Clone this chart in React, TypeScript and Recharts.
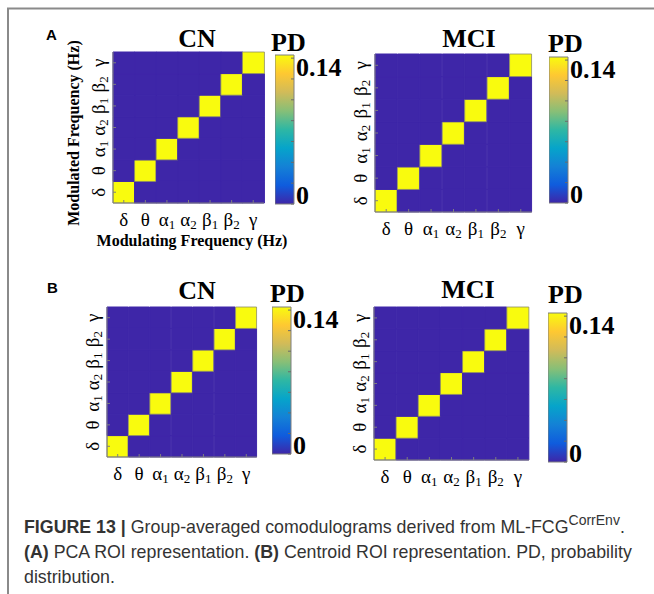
import React from 'react';
import { BarChart, Bar, Cell, XAxis, YAxis } from 'recharts';

// frequency bands, used for both axes (modulating = x, modulated = y)
const bands = ['δ', 'θ', 'α1', 'α2', 'β1', 'β2', 'γ'];
const bandCentres = [0.5, 1.5, 2.5, 3.5, 4.5, 5.5, 6.5];

// probability distribution, rows = modulated band (δ..γ), cols = modulating band (δ..γ)
const pcaCN = [
  [0.143, 0, 0, 0, 0, 0, 0],
  [0, 0.143, 0, 0, 0, 0, 0],
  [0, 0, 0.143, 0, 0, 0, 0],
  [0, 0, 0, 0.143, 0, 0, 0],
  [0, 0, 0, 0, 0.143, 0, 0],
  [0, 0, 0, 0, 0, 0.143, 0],
  [0, 0, 0, 0, 0, 0, 0.143],
];
const pcaMCI = [
  [0.143, 0, 0, 0, 0, 0, 0],
  [0, 0.143, 0, 0, 0, 0, 0],
  [0, 0, 0.143, 0, 0, 0, 0],
  [0, 0, 0, 0.143, 0, 0, 0],
  [0, 0, 0, 0, 0.143, 0, 0],
  [0, 0, 0, 0, 0, 0.143, 0],
  [0, 0, 0, 0, 0, 0, 0.143],
];
const centroidCN = [
  [0.143, 0, 0, 0, 0, 0, 0],
  [0, 0.143, 0, 0, 0, 0, 0],
  [0, 0, 0.143, 0, 0, 0, 0],
  [0, 0, 0, 0.143, 0, 0, 0],
  [0, 0, 0, 0, 0.143, 0, 0],
  [0, 0, 0, 0, 0, 0.143, 0],
  [0, 0, 0, 0, 0, 0, 0.143],
];
const centroidMCI = [
  [0.143, 0, 0, 0, 0, 0, 0],
  [0, 0.143, 0, 0, 0, 0, 0],
  [0, 0, 0.143, 0, 0, 0, 0],
  [0, 0, 0, 0.143, 0, 0, 0],
  [0, 0, 0, 0, 0.143, 0, 0],
  [0, 0, 0, 0, 0, 0.143, 0],
  [0, 0, 0, 0, 0, 0, 0.143],
];

// colour scale
const pdMax = 0.143;
const pdTicks = [0, 0.02, 0.04, 0.06, 0.08, 0.1, 0.12, 0.14];
const pdLabelled = [0, 0.14];
const parula = ['#3e26a8', '#0f5cdd', '#1481d6', '#06a4ca', '#2eb7a4', '#87bf77', '#d1bb59', '#fec832', '#f9fb0e'];

const SERIF = '"Liberation Serif", "Times New Roman", serif';
const SANS = '"Liberation Sans", Arial, sans-serif';
const FRAME = '#7f7f7f';
const AXIS_W = 30;
const AXIS_H = 30;
const CB_PAD = 12;

function hexToRgb(h: string) {
  return [1, 3, 5].map(k => parseInt(h.slice(k, k + 2), 16));
}

function pdColour(v: number) {
  const t = Math.max(0, Math.min(1, v / pdMax)) * (parula.length - 1);
  const k = Math.min(Math.floor(t), parula.length - 2);
  const f = t - k;
  const a = hexToRgb(parula[k]);
  const b = hexToRgb(parula[k + 1]);
  const c = a.map((x, i) => Math.round(x + (b[i] - x) * f));
  return `rgb(${c[0]},${c[1]},${c[2]})`;
}

function bandText(label: string) {
  const sub = label.slice(1);
  return [
    label[0],
    sub ? <tspan key="s" fontSize={13} dy={3}>{sub}</tspan> : null,
  ];
}

function XBandTick({ x, y, payload }: any) {
  return (
    <text x={x} y={y} textAnchor="middle" fontFamily={SERIF} fontSize={19} fill="#000">
      {bandText(payload.value)}
    </text>
  );
}

function YBandTick({ x, y, payload }: any) {
  const label = bands[bandCentres.indexOf(payload.value)] ?? '';
  return (
    <text x={x} y={y} transform={`rotate(-90 ${x} ${y})`} textAnchor="middle"
      fontFamily={SERIF} fontSize={19} fill="#000">
      {bandText(label)}
    </text>
  );
}

function PdTick({ x, y, payload }: any) {
  if (!pdLabelled.includes(payload.value)) return null;
  // labels sit just inside the ends of the bar
  const dy = payload.value === 0 ? 0 : 18;
  return (
    <text x={x} y={y + dy} fontFamily={SERIF} fontSize={26} fontWeight="bold" fill="#000">
      {String(payload.value)}
    </text>
  );
}

interface Box { x: number; y: number; w: number; h: number }

function Comodulogram({ matrix, plot }: { matrix: number[][]; plot: Box }) {
  const data = bands.map(b => {
    const row: Record<string, any> = { band: b };
    matrix.forEach((_, j) => { row[`r${j}`] = 1; });
    return row;
  });
  return (
    <div style={{ position: 'absolute', left: plot.x - AXIS_W, top: plot.y - 1 }}>
      <BarChart width={AXIS_W + plot.w + 1} height={plot.h + AXIS_H + 1} data={data}
        margin={{ top: 1, right: 1, bottom: 0, left: 0 }} barCategoryGap={0} barGap={0}>
        {matrix.map((row, j) => (
          <Bar key={j} dataKey={`r${j}`} stackId="pd" isAnimationActive={false}>
            {row.map((v, i) => (
              <Cell key={i} fill={pdColour(v)} stroke={v > 0 ? '#8d8d66' : pdColour(v)}
                strokeWidth={v > 0 ? 0.8 : 1} />
            ))}
          </Bar>
        ))}
        <XAxis dataKey="band" height={AXIS_H} interval={0} tick={<XBandTick />}
          tickSize={-3} tickMargin={26} axisLine={{ stroke: FRAME }} tickLine={{ stroke: FRAME }} />
        <XAxis xAxisId="top" dataKey="band" orientation="top" height={0} tick={false}
          tickLine={false} axisLine={{ stroke: FRAME }} />
        <YAxis type="number" domain={[0, 7]} ticks={bandCentres} width={AXIS_W} interval={0}
          tick={<YBandTick />} tickSize={-3} tickMargin={11}
          axisLine={{ stroke: FRAME }} tickLine={{ stroke: FRAME }} />
        <YAxis yAxisId="right" orientation="right" type="number" domain={[0, 7]} width={0}
          tick={false} tickLine={false} axisLine={{ stroke: FRAME }} />
      </BarChart>
    </div>
  );
}

function Colourbar({ bar, id }: { bar: Box; id: string }) {
  const LABEL_W = 60;
  return (
    <div style={{ position: 'absolute', left: bar.x, top: bar.y - CB_PAD }}>
      <BarChart width={bar.w + LABEL_W} height={bar.h + 2 * CB_PAD} data={[{ name: 'PD', pd: pdMax }]}
        margin={{ top: CB_PAD, right: 0, bottom: CB_PAD, left: 0 }} barCategoryGap={0}>
        <defs>
          <linearGradient id={id} x1="0" y1="1" x2="0" y2="0">
            {parula.map((c, k) => (
              <stop key={k} offset={k / (parula.length - 1)} stopColor={c} />
            ))}
          </linearGradient>
        </defs>
        <Bar dataKey="pd" fill={`url(#${id})`} stroke={FRAME} isAnimationActive={false} />
        <XAxis dataKey="name" hide />
        <YAxis orientation="right" type="number" domain={[0, pdMax]} ticks={pdTicks} interval={0}
          width={LABEL_W} tickSize={-3} tickMargin={5} tick={<PdTick />}
          axisLine={false} tickLine={{ stroke: '#6b6b6b' }} />
      </BarChart>
    </div>
  );
}

const panels = [
  { id: 'a-cn', title: 'CN', matrix: pcaCN,
    plot: { x: 113, y: 52, w: 151, h: 151 }, bar: { x: 275, y: 55, w: 19, h: 149 },
    titleAt: [197, 47], pdAt: [271, 51] },
  { id: 'a-mci', title: 'MCI', matrix: pcaMCI,
    plot: { x: 375, y: 54, w: 157, h: 158 }, bar: { x: 549, y: 57, w: 19, h: 146 },
    titleAt: [469, 47], pdAt: [548, 52] },
  { id: 'b-cn', title: 'CN', matrix: centroidCN,
    plot: { x: 107, y: 307, w: 150, h: 150 }, bar: { x: 272, y: 307, w: 19, h: 147 },
    titleAt: [197, 299], pdAt: [270, 302] },
  { id: 'b-mci', title: 'MCI', matrix: centroidMCI,
    plot: { x: 374, y: 307, w: 155, h: 153 }, bar: { x: 548, y: 313, w: 19, h: 149 },
    titleAt: [468, 298], pdAt: [548, 303] },
];

export default function App() {
  return (
    <div style={{ position: 'absolute', left: 0, top: 0, width: 654, height: 594,
      background: '#fff', overflow: 'hidden' }}>
      {panels.map(p => (
        <React.Fragment key={p.id}>
          <Comodulogram matrix={p.matrix} plot={p.plot} />
          <Colourbar bar={p.bar} id={`parula-${p.id}`} />
        </React.Fragment>
      ))}

      <svg width={654} height={594} style={{ position: 'absolute', left: 0, top: 0, pointerEvents: 'none' }}>
        <path d="M 8 600 L 8 8.5 L 660 8.5" fill="none" stroke="#8a8a8a" strokeWidth={2} />

        <text x={46} y={40} fontFamily={SANS} fontWeight="bold" fontSize={15}>A</text>
        <text x={47} y={293} fontFamily={SANS} fontWeight="bold" fontSize={15}>B</text>

        {panels.map(p => (
          <g key={p.id} fontFamily={SERIF} fontWeight="bold" fontSize={26} fill="#000">
            <text x={p.titleAt[0]} y={p.titleAt[1]} textAnchor="middle">{p.title}</text>
            <text x={p.pdAt[0]} y={p.pdAt[1]}>PD</text>
          </g>
        ))}

        <g fontFamily={SERIF} fontWeight="bold" fontSize={16} fill="#000">
          <text x={192} y={246} textAnchor="middle">Modulating Frequency (Hz)</text>
          <text x={79} y={133} textAnchor="middle" transform="rotate(-90 79 133)">Modulated Frequency (Hz)</text>
        </g>

        <g fontFamily={SANS} fontSize={17.8} fill="#333">
          <text x={24} y={533}>
            <tspan fontWeight="bold">FIGURE 13 |</tspan> Group-averaged comodulograms derived from ML-FCG
            <tspan fontSize={14} dy={-8}>CorrEnv</tspan>
            <tspan dy={8}>.</tspan>
          </text>
          <text x={24} y={558}>
            <tspan fontWeight="bold">(A)</tspan> PCA ROI representation. <tspan fontWeight="bold">(B)</tspan> Centroid ROI representation. PD, probability
          </text>
          <text x={24} y={583}>distribution.</text>
        </g>
      </svg>
    </div>
  );
}
